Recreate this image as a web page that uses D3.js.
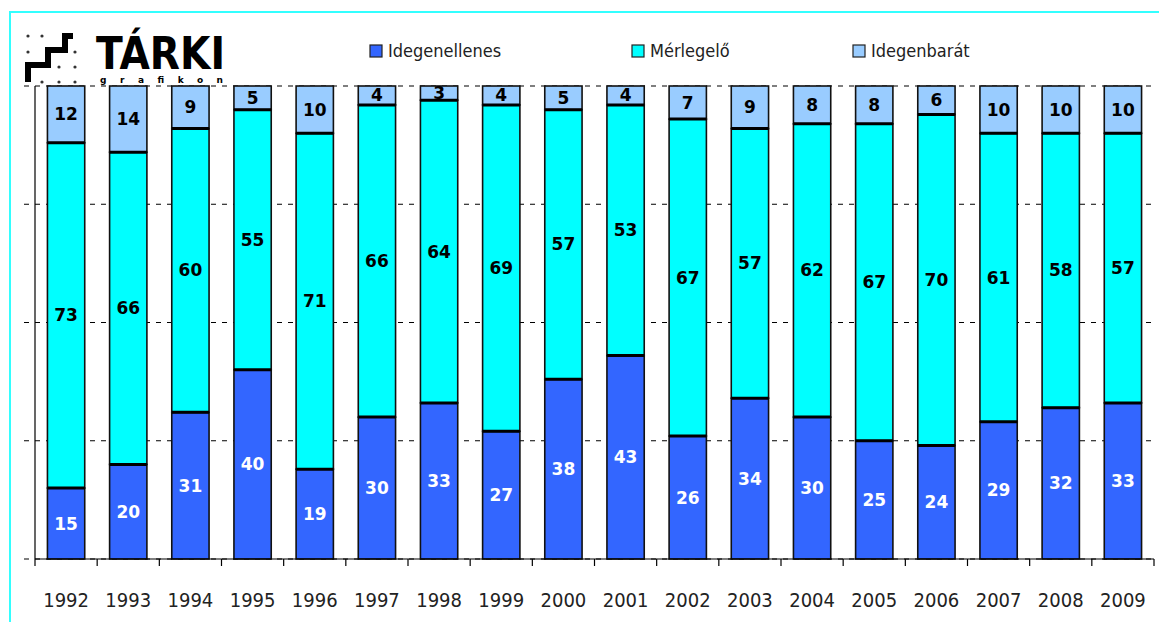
<!DOCTYPE html>
<html>
<head>
<meta charset="utf-8">
<script src="https://cdn.jsdelivr.net/npm/d3@7"></script>
<style>
  body { margin: 0; background: #fff; }
  svg { display: block; }
</style>
</head>
<body>
<svg id="chart" width="1159" height="622"></svg>
<script>
const years = ["1992", "1993", "1994", "1995", "1996", "1997", "1998", "1999", "2000",
  "2001", "2002", "2003", "2004", "2005", "2006", "2007", "2008", "2009"];
const idegenellenes = [15, 20, 31, 40, 19, 30, 33, 27, 38, 43, 26, 34, 30, 25, 24, 29, 32, 33];
const merlegelo = [73, 66, 60, 55, 71, 66, 64, 69, 57, 53, 67, 57, 62, 67, 70, 61, 58, 57];
const idegenbarat = [12, 14, 9, 5, 10, 4, 3, 4, 5, 4, 7, 9, 8, 8, 6, 10, 10, 10];
const seriesNames = ["Idegenellenes", "Mérlegelő", "Idegenbarát"];
const seriesColors = ["#3366ff", "#00ffff", "#99ccff"];
const gridTicks = [0, 25, 50, 75, 100];

const svg = d3.select("#chart");

// frame
svg.append("rect")
  .attr("x", 10).attr("y", 12)
  .attr("width", 1200).attr("height", 700)
  .attr("fill", "none")
  .attr("stroke", "#33ffff")
  .attr("stroke-width", 2);

const x = d3.scaleBand().domain(years).range([35, 1154]).paddingInner(0.4).paddingOuter(0.2);
const y = d3.scaleLinear().domain([0, 100]).range([559, 86]);

// dashed gridlines
svg.append("g")
  .selectAll("line")
  .data(gridTicks)
  .join("line")
  .attr("x1", 24)
  .attr("x2", 1154)
  .attr("y1", d => y(d))
  .attr("y2", d => y(d))
  .attr("stroke", "#000")
  .attr("stroke-width", 1.2)
  .attr("stroke-dasharray", "5,6");

// y axis line
svg.append("line")
  .attr("x1", 35).attr("x2", 35)
  .attr("y1", y(0)).attr("y2", y(100))
  .attr("stroke", "#000").attr("stroke-width", 1.2);

// stacked bars
const rows = years.map((yr, i) => ({
  year: yr,
  values: [idegenellenes[i], merlegelo[i], idegenbarat[i]]
}));
const stack = d3.stack().keys([0, 1, 2]).value((d, k) => d.values[k]);
const layers = stack(rows);

const layerG = svg.append("g")
  .selectAll("g")
  .data(layers)
  .join("g")
  .attr("fill", (d, i) => seriesColors[i]);

layerG.selectAll("rect")
  .data(d => d)
  .join("rect")
  .attr("x", d => x(d.data.year))
  .attr("width", x.bandwidth())
  .attr("y", d => y(d[1]))
  .attr("height", d => y(d[0]) - y(d[1]))
  .attr("stroke", "#111")
  .attr("stroke-width", 1.6);

// separator lines between segments (thicker in the original)
layerG.filter((d, i) => i > 0)
  .selectAll("line")
  .data(d => d)
  .join("line")
  .attr("x1", d => x(d.data.year))
  .attr("x2", d => x(d.data.year) + x.bandwidth())
  .attr("y1", d => y(d[0]))
  .attr("y2", d => y(d[0]))
  .attr("stroke", "#000")
  .attr("stroke-width", 3);

// value labels
layerG.selectAll("text")
  .data(d => d)
  .join("text")
  .attr("x", d => x(d.data.year) + x.bandwidth() / 2)
  .attr("y", d => (y(d[0]) + y(d[1])) / 2)
  .attr("text-anchor", "middle")
  .attr("dominant-baseline", "central")
  .attr("font-family", "DejaVu Sans")
  .attr("font-weight", "bold")
  .attr("font-size", "17px")
  .attr("fill", function () {
    return d3.select(this.parentNode).datum().key === 0 ? "#fff" : "#000";
  })
  .text(d => d[1] - d[0]);

// x axis
const xAxisG = svg.append("g");
xAxisG.append("line")
  .attr("x1", 35).attr("x2", 1154)
  .attr("y1", y(0)).attr("y2", y(0))
  .attr("stroke", "#000").attr("stroke-width", 1.2);
xAxisG.selectAll(".tick")
  .data(d3.range(years.length + 1))
  .join("line")
  .attr("class", "tick")
  .attr("x1", i => 35 + i * (1119 / years.length))
  .attr("x2", i => 35 + i * (1119 / years.length))
  .attr("y1", y(0))
  .attr("y2", y(0) + 7)
  .attr("stroke", "#000").attr("stroke-width", 1.2);
xAxisG.selectAll("text")
  .data(years)
  .join("text")
  .attr("x", d => x(d) + x.bandwidth() / 2)
  .attr("y", 607)
  .attr("text-anchor", "middle")
  .attr("font-family", "DejaVu Sans Condensed, DejaVu Sans")
  .attr("font-stretch", "condensed")
  .attr("font-size", "20px")
  .attr("fill", "#222")
  .text(d => d);

// legend
const legendX = [370, 632, 853];
const legend = svg.append("g")
  .selectAll("g")
  .data(seriesNames)
  .join("g")
  .attr("transform", (d, i) => `translate(${legendX[i]},45)`);
legend.append("rect")
  .attr("width", 12).attr("height", 12)
  .attr("fill", (d, i) => seriesColors[i])
  .attr("stroke", "#222").attr("stroke-width", 1.2);
legend.append("text")
  .attr("x", 18).attr("y", 12)
  .attr("font-family", "DejaVu Sans Condensed, DejaVu Sans")
  .attr("font-stretch", "condensed")
  .attr("font-size", "18px")
  .attr("fill", "#222")
  .text(d => d);

// TÁRKI logo
const logo = svg.append("g");
logo.append("path")
  .attr("d", "M73,36 H65 V50 H48 V65 H28 V82")
  .attr("fill", "none")
  .attr("stroke", "#000")
  .attr("stroke-width", 6)
  .attr("stroke-linejoin", "miter");
const dots = [[28, 36], [42, 36], [28, 52], [75, 52], [59, 67], [75, 67], [42, 82], [59, 82], [75, 82]];
logo.selectAll("circle")
  .data(dots)
  .join("circle")
  .attr("cx", d => d[0]).attr("cy", d => d[1])
  .attr("r", 1.6)
  .attr("fill", "#333");
logo.append("text")
  .attr("x", 96).attr("y", 69)
  .attr("font-family", "DejaVu Sans Condensed, DejaVu Sans")
  .attr("font-stretch", "condensed")
  .attr("font-weight", "bold")
  .attr("font-size", "44px")
  .attr("textLength", 129)
  .attr("lengthAdjust", "spacingAndGlyphs")
  .attr("fill", "#000")
  .text("TÁRKI");
logo.append("text")
  .attr("x", 100).attr("y", 83)
  .attr("font-family", "DejaVu Sans")
  .attr("font-weight", "bold")
  .attr("font-size", "9px")
  .attr("textLength", 123)
  .attr("lengthAdjust", "spacing")
  .attr("fill", "#000")
  .text("grafikon");
</script>
</body>
</html>
